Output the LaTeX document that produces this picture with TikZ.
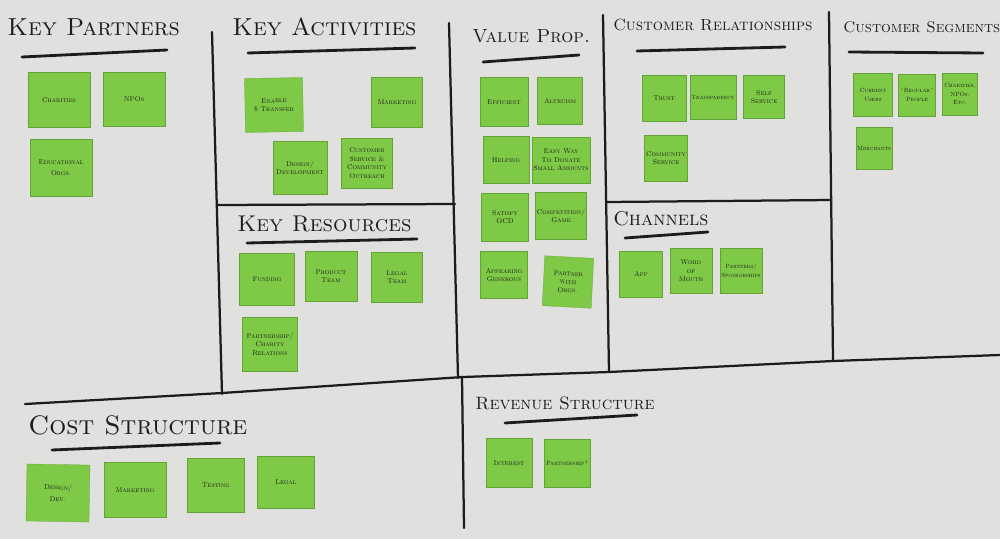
\documentclass[tikz,border=0pt]{standalone}
\usepackage{tikz}

\definecolor{board}{RGB}{224,225,223}
\definecolor{postit}{RGB}{126,202,70}
\definecolor{marker}{RGB}{28,28,28}

\begin{document}
\begin{tikzpicture}[x=0.025cm, y=-0.025cm,
	note/.style 2 args={fill=postit, draw=postit!80!black, line width=0.2pt, minimum width=#1*0.025cm, minimum height=#2*0.025cm, inner sep=1pt, align=center, text=marker, font=\fontsize{5}{6}\selectfont\scshape},
	title/.style={anchor=west, inner sep=0pt, text=marker, font=\fontsize{#1}{#1}\selectfont\scshape},
	rule/.style={marker, line width=2pt, line cap=round},
	grid/.style={marker, line width=1.6pt, line cap=round}]
	\fill[board] (0,0) rectangle (1000,539);
	\useasboundingbox (0,0) rectangle (1000,539);
	% board lines
	\draw[grid] (212,32) -- (222,394);
	\draw[grid] (449,23) -- (458,378);
	\draw[grid] (603,15) -- (609,372);
	\draw[grid] (829,12) -- (833,360);
	\draw[grid] (217,205) -- (455,204);
	\draw[grid] (607,202) -- (831,200);
	\draw[grid] (25,404) -- (222,393) -- (463,377) -- (609,372) -- (833,361) -- (1000,355);
	\draw[grid] (462,377) -- (464,528);
	% headings
	\node[title=17.5] (kp) at (7,27) {Key Partners};
	\node[title=17.5] (ka) at (232,27) {Key Activities};
	\node[title=13.5] (vp) at (472,36) {Value Prop.};
	\node[title=11.5] (cr) at (613,25) {Customer Relationships};
	\node[title=11] (cs) at (843,27) {Customer Segments};
	\node[title=16.2] (kr) at (237,224) {Key Resources};
	\node[title=14.2] (ch) at (613,219) {Channels};
	\node[title=19] (cost) at (28,425) {Cost Structure};
	\node[title=12.7] (rev) at (475,403) {Revenue Structure};
	\draw[rule] (22,57) -- (167,50);
	\draw[rule] (248,53) -- (415,48);
	\draw[rule] (483,62) -- (579,55);
	\draw[rule] (637,51) -- (785,47);
	\draw[rule] (849,52) -- (983,53);
	\draw[rule] (247,243) -- (417,239);
	\draw[rule] (625,238) -- (708,232);
	\draw[rule] (52,450) -- (220,443);
	\draw[rule] (505,423) -- (637,415);
	% key partners
	\node[note={62}{55}] (charities) at (59,100) {Charities};
	\node[note={62}{54}] (npos) at (134,99) {NPOs};
	\node[note={62}{57}] (eduorgs) at (61,168) {Educational\\[2pt] Orgs.};
	% key activities
	\node[note={58}{54}, rotate=1] (enable) at (274,105) {Enable\\ \$ Transfer};
	\node[note={51}{50}] (kamarketing) at (397,102) {Marketing};
	\node[note={54}{53}] (designdev) at (300,168) {Design/\\ Development};
	\node[note={51}{50}] (custservice) at (367,163) {Customer\\ Service \&\\ Community\\ Outreach};
	% value proposition
	\node[note={48}{49}] (efficient) at (504,102) {Efficient};
	\node[note={45}{47}] (altruism) at (560,101) {Altruism};
	\node[note={46}{47}] (helping) at (506,160) {Helping};
	\node[note={46}{46}] (easyway) at (561,160) {Easy Way\\ To Donate\\ Small Amounts};
	\node[note={47}{48}] (satisfy) at (505,217) {Satisfy\\ OCD};
	\node[note={45}{47}] (competition) at (561,216) {Competition/\\ Game};
	\node[note={47}{47}] (appearing) at (504,275) {Appearing\\ Generous};
	\node[note={49}{50}, rotate=-3] (partnerorgs) at (568,282) {Partner\\ with\\ Orgs.};
	% customer relationships
	\node[note={44}{46}] (trust) at (664,98) {Trust};
	\node[note={41}{44}] (transparency) at (713,97) {\fontsize{4.3}{5}\selectfont Transparency};
	\node[note={41}{43}] (selfservice) at (764,97) {Self\\ Service};
	\node[note={43}{46}] (commservice) at (666,158) {Community\\ Service};
	% customer segments
	\node[note={39}{43}] (currentusers) at (873,95) {\fontsize{4.3}{5}\selectfont Current\\ \fontsize{4.3}{5}\selectfont Users};
	\node[note={37}{42}] (regular) at (917,95) {\fontsize{4.3}{5}\selectfont ``Regular''\\ \fontsize{4.3}{5}\selectfont People};
	\node[note={35}{42}] (charitiesetc) at (960,94) {\fontsize{4.3}{5}\selectfont Charities,\\ \fontsize{4.3}{5}\selectfont NPOs,\\ \fontsize{4.3}{5}\selectfont Etc.};
	\node[note={36}{42}] (merchants) at (874,148) {\fontsize{4.3}{5}\selectfont Merchants};
	% key resources
	\node[note={55}{52}] (funding) at (267,279) {Funding};
	\node[note={52}{50}] (productteam) at (331,276) {Product\\ Team};
	\node[note={51}{50}] (legalteam) at (397,277) {Legal\\ Team};
	\node[note={55}{54}] (partnership) at (270,344) {Partnership/\\ Charity\\ Relations};
	% channels
	\node[note={43}{46}] (app) at (641,274) {App};
	\node[note={42}{45}] (wordofmouth) at (691,271) {Word\\ of\\ Mouth};
	\node[note={40}{45}] (partners) at (741,271) {\fontsize{4.3}{5}\selectfont Partners/\\ \fontsize{4.3}{5}\selectfont Sponsorships};
	% cost structure
	\node[note={63}{57}, rotate=-1] (csdesign) at (58,493) {Design/\\[2pt] Dev.};
	\node[note={62}{55}] (csmarketing) at (135,490) {Marketing};
	\node[note={57}{54}] (testing) at (216,485) {Testing};
	\node[note={57}{52}] (legal) at (286,482) {Legal};
	% revenue structure
	\node[note={46}{49}] (interest) at (509,463) {Interest};
	\node[note={46}{48}] (partnershipq) at (567,463) {\fontsize{4.5}{5}\selectfont Partnership?};
\end{tikzpicture}
\end{document}
